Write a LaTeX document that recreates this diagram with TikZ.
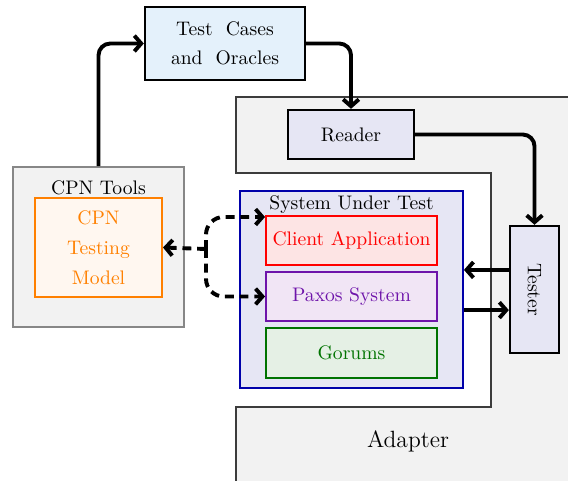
\documentclass[tikz,border=0pt]{standalone}
\usetikzlibrary{arrows.meta,calc}
\definecolor{tcfill}{RGB}{228,241,251}
\definecolor{lav}{RGB}{230,230,244}
\definecolor{sutblue}{RGB}{0,0,170}
\definecolor{pxborder}{RGB}{110,20,170}
\definecolor{pxfill}{RGB}{241,229,245}
\definecolor{grborder}{RGB}{0,115,0}
\definecolor{grfill}{RGB}{229,240,229}
\definecolor{clfill}{RGB}{253,228,228}
\definecolor{mdfill}{RGB}{255,247,240}
\definecolor{mdorange}{RGB}{255,128,0}
\definecolor{cpnfill}{RGB}{242,242,242}
\definecolor{cpnborder}{RGB}{135,135,135}
\definecolor{adfill}{RGB}{242,242,242}
\definecolor{adborder}{RGB}{60,60,60}
\tikzset{
  darkbox/.style={draw=black, line width=1.2pt, inner sep=0pt, align=center},
  inbox/.style={line width=1pt, inner sep=0pt, minimum width=87.2pt, minimum height=25pt},
  arr/.style={line width=2pt, -{Straight Barb[length=3.5pt,width=8pt]}, rounded corners=6pt},
  darr/.style={arr, dash pattern=on 4.5pt off 3pt, rounded corners=9pt},
}
\begin{document}
\begin{tikzpicture}[x=0.51pt,y=-0.51pt]
\useasboundingbox (0,0) rectangle (568,480);
\clip (0,0) rectangle (568,480);
% Adapter
\fill[adfill] (236,97) -- (580,97) -- (580,490) -- (236,490) -- (236,407) -- (491,407) -- (491,173) -- (236,173) -- cycle;
\draw[adborder, line width=0.8pt] (580,97) -- (236,97) -- (236,173) -- (491,173) -- (491,407) -- (236,407) -- (236,490);
\node[font=\large] (adapter) at (408,441) {Adapter};
% Test cases
\node[darkbox, fill=tcfill, minimum width=81.6pt, minimum height=37.2pt] (tc) at (225,43.5) {Test\ \ Cases\\[2.8pt]and\ \ Oracles};
% Reader
\node[darkbox, fill=lav, minimum width=64.3pt, minimum height=25pt] (reader) at (351,134.5) {Reader};
% Tester
\node[darkbox, fill=lav, minimum width=25pt, minimum height=64.8pt] (tester) at (534.5,289.5) {\rotatebox{-90}{Tester}};
% SUT
\node[draw=sutblue, fill=lav, line width=1pt, minimum width=113.7pt, minimum height=100.5pt] (sut) at (351.5,289.5) {};
\node (sutlabel) at (351.5,205) {System Under Test};
\node[inbox, draw=red, fill=clfill, text=red] (client) at (351.5,240.5) {Client Application};
\node[inbox, draw=pxborder, fill=pxfill, text=pxborder] (paxos) at (351.5,296.5) {Paxos System};
\node[inbox, draw=grborder, fill=grfill, text=grborder, minimum height=25.5pt] (gorums) at (351.5,353) {Gorums};
% CPN tools
\node[draw=cpnborder, fill=cpnfill, line width=1pt, minimum width=87.2pt, minimum height=81.6pt] (cpn) at (98.5,247) {};
\node (cpnlabel) at (98.5,188) {CPN Tools};
\node[draw=mdorange, fill=mdfill, text=mdorange, line width=1pt, inner sep=0pt, minimum width=64.8pt, minimum height=50.5pt, align=center] (model) at (98.5,247.5) {CPN\\[3.3pt]Testing\\[3.3pt]Model};
% arrows
\draw[arr] (cpn.north) |- (tc.west);
\draw[arr] (tc.east) -| (reader.north);
\draw[arr] (reader.east) -| (tester.north);
\draw[arr] ([yshift=10pt]tester.west) -- ([yshift=10pt]tester.west -| sut.east);
\draw[arr] ([yshift=-10.5pt]tester.west -| sut.east) -- ([yshift=-10.5pt]tester.west);
% dashed
\coordinate (j) at (206,249);
\draw[darr] (j) -- (model.east);
\draw[darr] (j) |- ([yshift=-1pt]client.north west);
\draw[darr] (j) |- (paxos.west);
\end{tikzpicture}
\end{document}
